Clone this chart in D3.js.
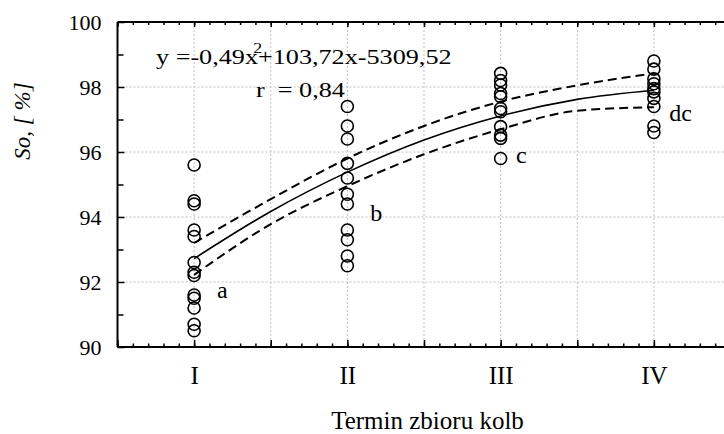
<!DOCTYPE html>
<html>
<head>
<meta charset="utf-8">
<script src="https://cdn.jsdelivr.net/npm/d3@7"></script>
<style>
  body { margin: 0; background: #fff; }
  svg { display: block; font-family: "Liberation Serif", "Times New Roman", serif; }
  .grid line { stroke: #c0c0c0; stroke-width: 1; stroke-dasharray: 2,2; }
  .axis path, .axis line { stroke: #000; }
  .axis path { stroke-width: 2; }
  .axis line { stroke-width: 1.5; }
</style>
</head>
<body>
<svg width="724" height="434"></svg>
<script>
var groups = ["I", "II", "III", "IV"];
var sI   = [95.6, 94.5, 94.4, 93.6, 93.4, 92.6, 92.3, 92.2, 91.6, 91.5, 91.2, 90.7, 90.5];
var sII  = [97.4, 96.8, 96.4, 95.65, 95.2, 94.7, 94.4, 93.6, 93.3, 92.8, 92.5];
var sIII = [98.42, 98.2, 98.06, 97.8, 97.7, 97.34, 97.24, 96.78, 96.52, 96.42, 95.8];
var sIV  = [98.8, 98.55, 98.25, 98.1, 97.95, 97.85, 97.65, 97.4, 96.8, 96.6];

// homogeneous-group letters and where they sit (term, value)
var groupLetters = ["a", "b", "c", "dc"];
var letterT = [1.15, 2.15, 3.1, 4.1];
var letterV = [91.5, 93.88, 95.66, 96.95];

// fitted curve and its confidence band, read at every half step
var fitT   = [1, 1.5, 2, 2.5, 3, 3.5, 4];
var fitMid = [92.72, 94.17, 95.38, 96.37, 97.11, 97.62, 97.9];
var fitUp  = [93.2, 94.55, 95.8, 96.8, 97.55, 98.05, 98.42];
var fitLo  = [92.22, 93.78, 94.95, 95.93, 96.7, 97.27, 97.38];

var yTicks = [90, 92, 94, 96, 98, 100];
var equation = ["y =-0,49x", "2", "+103,72x-5309,52"];
var rText = "r  = 0,84";

var svg = d3.select("svg");
var mLeft = 117.5, mRight = 730.5, mTop = 22, mBottom = 347;

var x = d3.scaleLinear().domain([0.5, 4.5]).range([mLeft, mRight]);
var y = d3.scaleLinear().domain([90, 100]).range([mBottom, mTop]);

var halfSteps = d3.range(0.5, 4.51, 0.5);
var tenthSteps = d3.range(5, 46).map(function(d) { return d / 10; });

// grid
var grid = svg.append("g").attr("class", "grid");
grid.selectAll(".gx").data(halfSteps.slice(1)).enter().append("line")
	.attr("x1", function(d) { return x(d); }).attr("x2", function(d) { return x(d); })
	.attr("y1", mTop).attr("y2", mBottom);
grid.selectAll(".gy").data([92, 94, 96, 98]).enter().append("line")
	.attr("x1", mLeft).attr("x2", mRight)
	.attr("y1", function(d) { return y(d); }).attr("y2", function(d) { return y(d); });

// minor ticks
svg.append("g").attr("class", "axis")
	.attr("transform", "translate(0," + mBottom + ")")
	.call(d3.axisBottom(x).tickValues(tenthSteps).tickSize(-3.5).tickFormat(""))
	.select(".domain").remove();
svg.append("g").attr("class", "axis")
	.attr("transform", "translate(0," + mTop + ")")
	.call(d3.axisTop(x).tickValues(tenthSteps).tickSize(-3).tickFormat(""))
	.select(".domain").remove();
svg.append("g").attr("class", "axis")
	.attr("transform", "translate(" + mLeft + ",0)")
	.call(d3.axisLeft(y).tickValues([91, 93, 95, 97, 99]).tickSize(-6).tickFormat(""))
	.select(".domain").remove();

// major axes
var xAxis = svg.append("g").attr("class", "axis")
	.attr("transform", "translate(0," + mBottom + ")")
	.call(d3.axisBottom(x).tickValues(halfSteps).tickSize(-7).tickPadding(19)
		.tickFormat(function(d) { return d % 1 === 0 ? groups[d - 1] : ""; }));
xAxis.select(".domain").attr("d", "M" + mLeft + ",0H" + mRight);
xAxis.selectAll("text").attr("font-size", 25).attr("font-family", "Liberation Serif").attr("fill", "#000");

var topAxis = svg.append("g").attr("class", "axis")
	.attr("transform", "translate(0," + mTop + ")")
	.call(d3.axisTop(x).tickValues(halfSteps).tickSize(-5).tickFormat(""));
topAxis.select(".domain").attr("d", "M" + mLeft + ",0H" + mRight);

var yAxis = svg.append("g").attr("class", "axis")
	.attr("transform", "translate(" + mLeft + ",0)")
	.call(d3.axisLeft(y).tickValues(yTicks).tickSize(-7).tickPadding(16));
yAxis.select(".domain").attr("d", "M0," + mTop + "V" + mBottom);
yAxis.selectAll("text").attr("font-size", 22).attr("font-family", "Liberation Serif").attr("fill", "#000");

// fitted line and band
var line = d3.line()
	.x(function(d) { return x(d[0]); })
	.y(function(d) { return y(d[1]); })
	.curve(d3.curveMonotoneX);

[fitUp, fitLo].forEach(function(arr) {
	svg.append("path")
		.attr("d", line(fitT.map(function(t, i) { return [t, arr[i]]; })))
		.attr("fill", "none").attr("stroke", "#000")
		.attr("stroke-width", 2).attr("stroke-dasharray", "9,5");
});
svg.append("path")
	.attr("d", line(fitT.map(function(t, i) { return [t, fitMid[i]]; })))
	.attr("fill", "none").attr("stroke", "#000").attr("stroke-width", 1.6);

// observations
var points = [];
[sI, sII, sIII, sIV].forEach(function(arr, i) {
	arr.forEach(function(v) { points.push({ t: i + 1, v: v }); });
});
svg.append("g").selectAll("circle").data(points).enter().append("circle")
	.attr("cx", function(d) { return x(d.t); })
	.attr("cy", function(d) { return y(d.v); })
	.attr("r", 6)
	.attr("fill", "none").attr("stroke", "#000").attr("stroke-width", 1.6);

// letters next to groups
svg.append("g").selectAll("text").data(groupLetters).enter().append("text")
	.attr("x", function(d, i) { return x(letterT[i]); })
	.attr("y", function(d, i) { return y(letterV[i]); })
	.attr("font-size", 24)
	.text(function(d) { return d; });

// equation
var eq = svg.append("text")
	.attr("transform", "translate(156,64.3) scale(1.19,1)")
	.attr("font-size", 22);
eq.append("tspan").text(equation[0]);
eq.append("tspan").attr("dx", -4).attr("dy", -11).attr("font-size", 15).text(equation[1]);
eq.append("tspan").attr("dx", -3.5).attr("dy", 11).text(equation[2]);

svg.append("text")
	.attr("transform", "translate(256,96.7) scale(1.19,1)")
	.attr("font-size", 22)
	.style("white-space", "pre")
	.text(rText);

// axis titles
svg.append("text")
	.attr("x", 427.5).attr("y", 429)
	.attr("text-anchor", "middle").attr("font-size", 25)
	.text("Termin zbioru kolb");

svg.append("text")
	.attr("transform", "translate(30,121) rotate(-90)")
	.attr("text-anchor", "middle").attr("font-size", 23)
	.attr("font-style", "italic")
	.style("white-space", "pre")
	.text("So, [ %]");
</script>
</body>
</html>
